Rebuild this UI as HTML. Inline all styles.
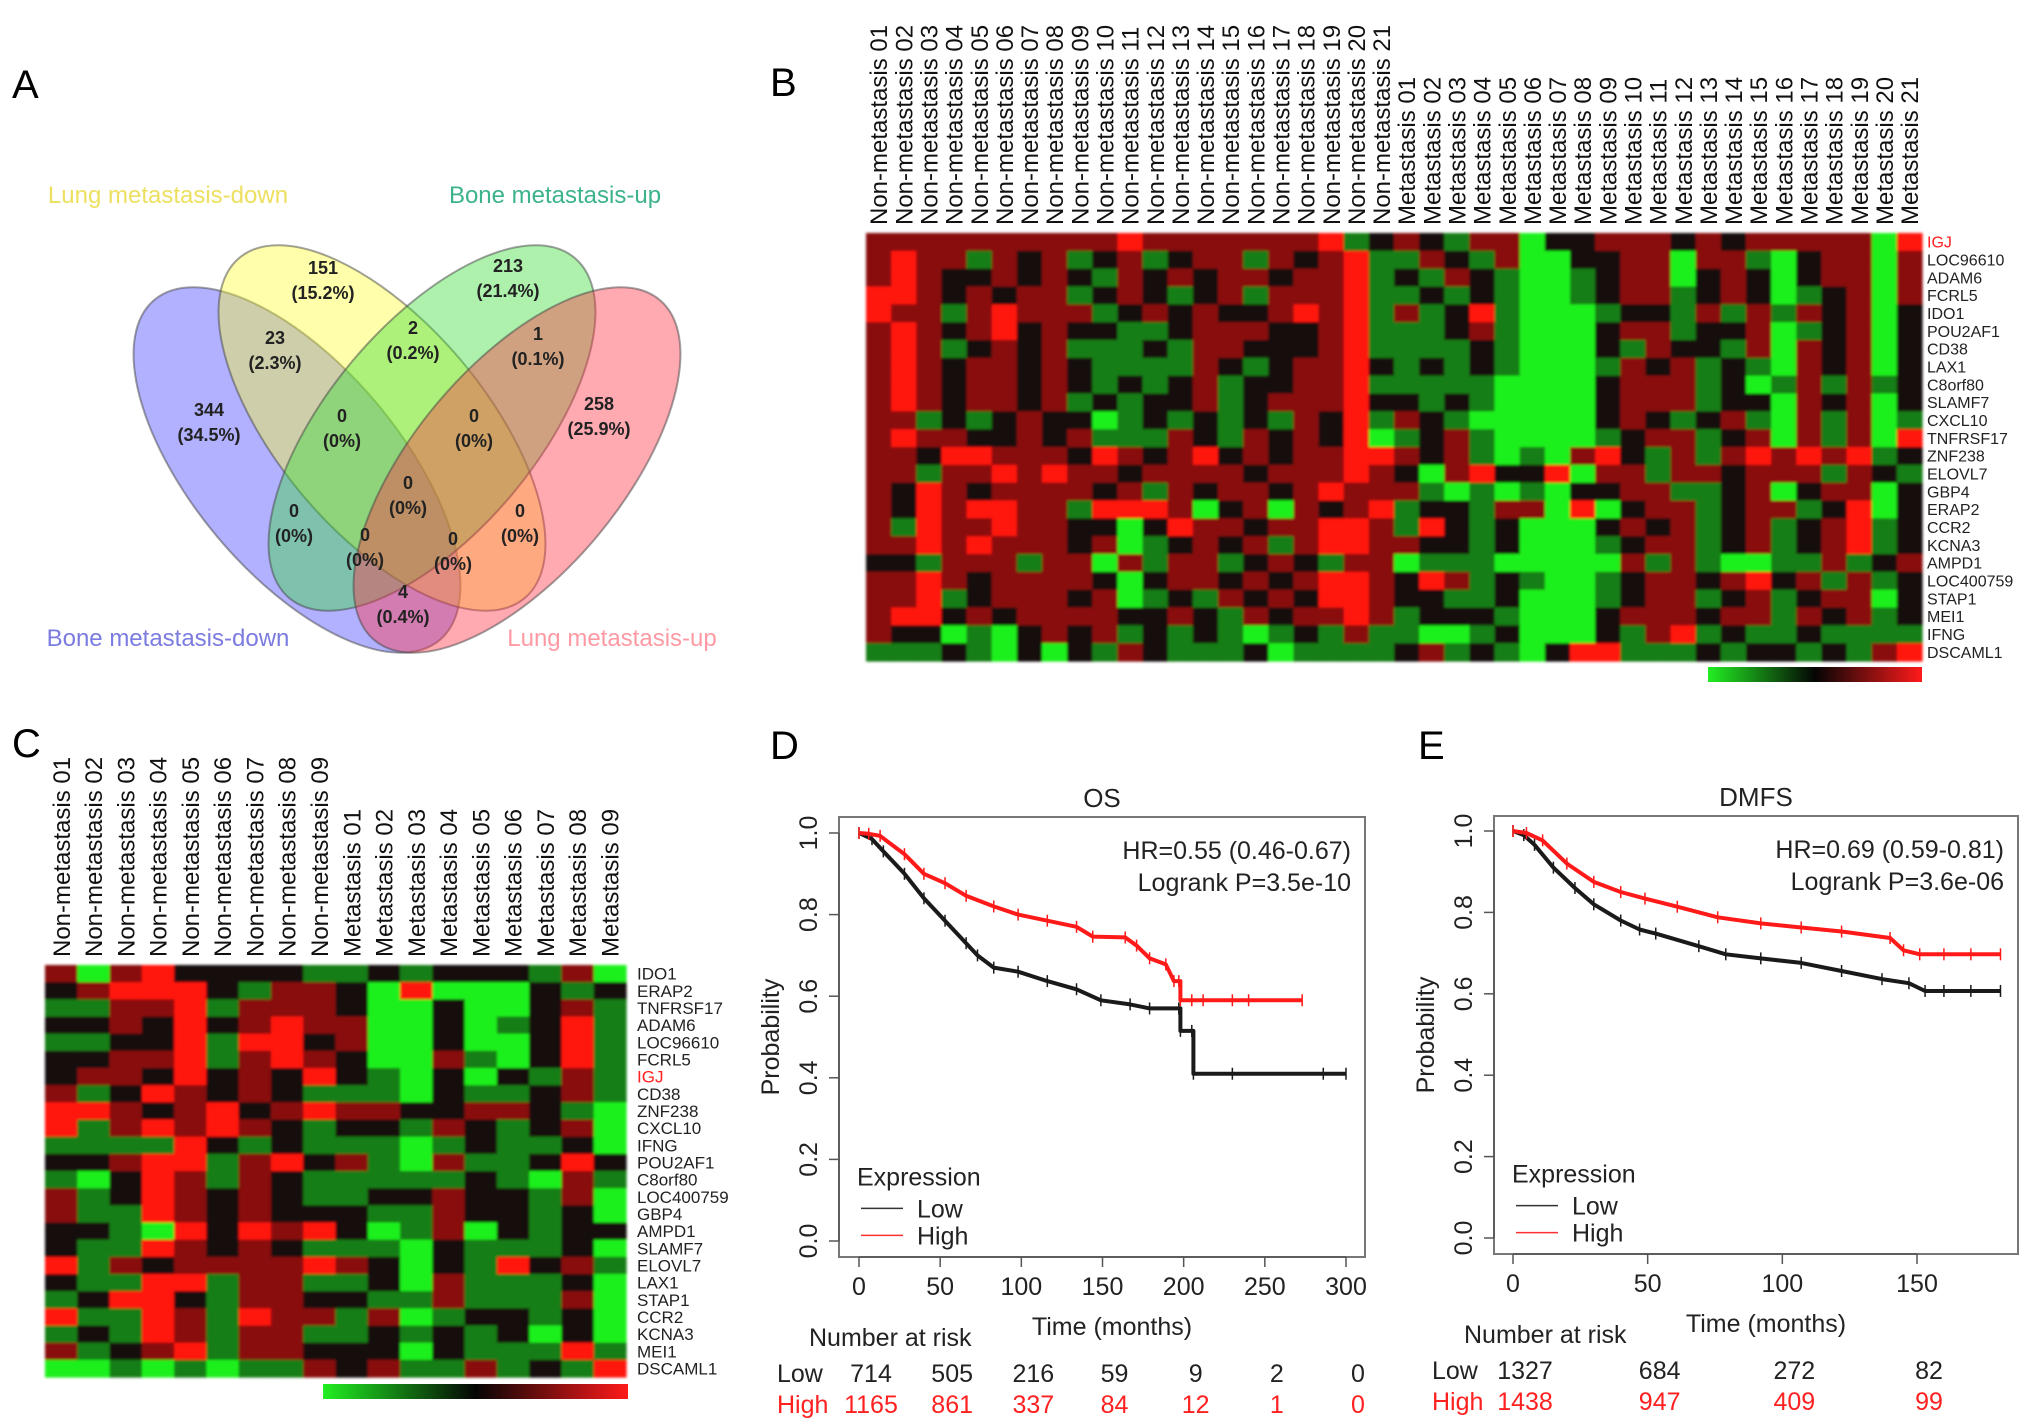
<!DOCTYPE html>
<html><head><meta charset="utf-8">
<style>
html,body{margin:0;padding:0;background:#fff;}
svg{display:block;font-family:"Liberation Sans",Arial,sans-serif;}
</style></head>
<body>
<svg id="fig" width="2032" height="1428" viewBox="0 0 2032 1428" xmlns="http://www.w3.org/2000/svg">
<defs>
<linearGradient id="cbar" x1="0" x2="1" y1="0" y2="0">
<stop offset="0" stop-color="#22ee22"/><stop offset="0.5" stop-color="#050505"/><stop offset="1" stop-color="#ff1a1a"/>
</linearGradient>
<filter id="soft"><feGaussianBlur stdDeviation="1.2"/></filter>
</defs>

<text x="12" y="98" font-size="40">A</text>
<text x="770" y="96" font-size="40">B</text>
<text x="12" y="757" font-size="40">C</text>
<text x="770" y="759" font-size="40">D</text>
<text x="1418" y="759" font-size="40">E</text>

<g id="venn">
<ellipse cx="297" cy="470" rx="104" ry="222" transform="rotate(-40 297 470)" fill="#4444ff" fill-opacity="0.42" stroke="#444" stroke-opacity="0.5" stroke-width="2"/>
<ellipse cx="382" cy="428" rx="104" ry="222" transform="rotate(-40 382 428)" fill="#ffff22" fill-opacity="0.38" stroke="#444" stroke-opacity="0.5" stroke-width="2"/>
<ellipse cx="432" cy="428" rx="104" ry="222" transform="rotate(40 432 428)" fill="#33dd33" fill-opacity="0.4" stroke="#444" stroke-opacity="0.5" stroke-width="2"/>
<ellipse cx="517" cy="470" rx="104" ry="222" transform="rotate(40 517 470)" fill="#ff3344" fill-opacity="0.42" stroke="#444" stroke-opacity="0.5" stroke-width="2"/>
<text x="168" y="203" font-size="24" fill="#ede060" text-anchor="middle">Lung metastasis-down</text>
<text x="555" y="203" font-size="24" fill="#3cb38a" text-anchor="middle">Bone metastasis-up</text>
<text x="168" y="646" font-size="24" fill="#7b7be0" text-anchor="middle">Bone metastasis-down</text>
<text x="612" y="646" font-size="24" fill="#ff9aa4" text-anchor="middle">Lung metastasis-up</text>
<g id="vennNums" font-size="18" font-weight="bold" fill="#222" text-anchor="middle"></g>
</g>

<g id="heatB"></g>
<g id="heatC"></g>
<g id="kmD"></g>
<g id="kmE"></g>
</svg>

<script>
const vennCounts = ["151","213","23","2","1","344","0","0","258","0","0","0","0","0","4"];
const vennPcts = ["(15.2%)","(21.4%)","(2.3%)","(0.2%)","(0.1%)","(34.5%)","(0%)","(0%)","(25.9%)","(0%)","(0%)","(0%)","(0%)","(0%)","(0.4%)"];
const vennRegionX = [323,508,275,413,538,209,342,474,599,408,294,520,365,453,403];
const vennRegionY = [268,266,338,328,334,410,416,416,404,483,511,511,535,539,592];

const genesB = ["IGJ","LOC96610","ADAM6","FCRL5","IDO1","POU2AF1","CD38","LAX1","C8orf80","SLAMF7","CXCL10","TNFRSF17","ZNF238","ELOVL7","GBP4","ERAP2","CCR2","KCNA3","AMPD1","LOC400759","STAP1","MEI1","IFNG","DSCAML1"];
const samplesB = [];
const rowsB = [
"rrrrrrr rrrRrrr rrrrRgk rkgrrGk krrrkrk rrrrrGR",
"rRrrgrk rgkrgkr rgrkrRg grkgrGG kkrrGrr gGkrrGr",
"rRrkkrk rkgrkrk rrkrrRg kgrkgGG gkrrGkr kGkrrGr",
"RRrkrkr rgkrkgk rgrrrRg gkgkgGG gkrrgkr kGgkrGr",
"RrrgrRr rrgkrkr kkrRrRg rgkRgGG Ggkkgrg rgrkrGk",
"rRrkrRk rkkggkr rrkkrRg ggkrgGG Gkrrgkk rGgkrGk",
"rRrgkrk rgggkgr rkkkrRg gggkgGG Gkgrkkg rGrkrGk",
"rRrkrrk rkggggr kgkrrRk gkgkgGG Ggrkrgk gGrkrGk",
"rRrkrrk rkgkgkr gkkrrRg ggggGGG Gkrrrgk Ggrgrgk",
"rRrkrrk rgkgkkr gkrrrRk kgkgGGG Gkrrrgk kGrkrGk",
"rrgkgkr kkGgkgk gkgrkRg rkgGGGG Gkrkgkr gGrgrGg",
"rRrrkkr krgggrk grkrkRG gkrgGGG Ggkrrgk rGrgrGR",
"rrkRRrr rkRrkrR krkrrRR rkrgGgG rRkgrgr RrRrRgk",
"rrgrrRr Rrrkrrr rkrrrRr kGrRkkR Grrgrrk rrrgrkg",
"rkRrkrr rrkrgrk rrkrRrr rgGgGgG kkrrggk rGkrrGk",
"rkRrRRr rgRRRrG krGrkrR gkkgrrG RGkrrgk rrgkRGk",
"rgRrrRr rkkGkRr rkrrRRr gRkgkGG Gkrkrgk rgkrRgk",
"rrRrRrr rkrGgkr krgrRRr rkkgkGG Ggkrrgk rgkrRgk",
"kkgrrrg rrGrgrr gkrkgrr GgggGGG GGrgrgG Gggrgkr",
"rrRrkrr rrkGkrr krkrRRr kRrgkgG Ggkrrkr Rkrgrgk",
"rrRgkrr rkrGgkg rkrkRRr kkggkGG Ggkrrgk rgkrrGk",
"rRRkrkr rrrkkrk grkrrRr gkkkgGG Gkrrrkr rgrkrgk",
"rkkGgGk rkrgkgk gGgkgrg gGGgkGG GkgrRgk ggkgggg",
"gggkgGk Gkgrkgg gkGgggg krgkgGk RRgggkg kkgkgrR"
];

const genesC = ["IDO1","ERAP2","TNFRSF17","ADAM6","LOC96610","FCRL5","IGJ","CD38","ZNF238","CXCL10","IFNG","POU2AF1","C8orf80","LOC400759","GBP4","AMPD1","SLAMF7","ELOVL7","LAX1","STAP1","CCR2","KCNA3","MEI1","DSCAML1"];
const samplesC = [];
const rowsC = [
"rGrRkkkkg gkgkkkgrG",
"krRRRkgrr kGRGGGkgk",
"ggrrRgrrr kGGkGGkrg",
"kkrkRkrRr rGGkGgkRg",
"ggkkRgRRk rGGkGGkRg",
"kkrrRgrRr kGGrgGkRg",
"krrkRkrkR kgGkGkgrg",
"rgkRrkrkg ggGkggkrg",
"RRrkrRkrR rrkkrrkgG",
"RgrRrRrkg kkgrkgkrG",
"ggggRkgkg ggGgkggkG",
"kkrRRgrRk rgGrggkRk",
"gGkRrgrkg ggggkgGrg",
"rgkRrkrkg gkkrkkgrG",
"rggRrkrkk kggrkkgkG",
"kkgGRkRrR kGgrGkgkk",
"kggRrkrkg ggGkgggkG",
"RgrkrrrrR rkGkgRkrg",
"kggRRgrrg gkGrgggkG",
"gkRRkgrrk kggrgggrG",
"RggRrgRrr grGgkkgkG",
"gkgRrgrrg gkgkgkGkG",
"rgkrRgrrk kkGkgggRg",
"GGgGgGggr krggrgkgR"
];

const osTicksX = [0,50,100,150,200,250,300];
const osLowT = [0,8,15,28,40,53,66,73,83,98,116,134,149,167,179,197,198,205,206,230,286,300];
const osLowS = [1,0.985,0.955,0.90,0.84,0.785,0.73,0.70,0.67,0.66,0.637,0.617,0.59,0.58,0.57,0.57,0.515,0.515,0.41,0.41,0.41,0.41];
const osHighT = [0,6,13,28,40,53,66,83,98,116,134,144,164,171,179,189,194,197,198,205,212,230,240,273];
const osHighS = [1,0.998,0.993,0.948,0.90,0.877,0.846,0.82,0.80,0.785,0.77,0.746,0.744,0.724,0.693,0.678,0.637,0.637,0.59,0.59,0.59,0.59,0.59,0.59];
const osRiskLow = ["714","505","216","59","9","2","0"];
const osRiskHigh = ["1165","861","337","84","12","1","0"];

const dmTicksX = [0,50,100,150];
const dmLowT = [0,4,8,15,23,30,40,47,53,69,79,92,107,122,137,147,153,160,170,181];
const dmLowS = [1,0.99,0.966,0.91,0.86,0.82,0.78,0.758,0.748,0.717,0.697,0.687,0.676,0.656,0.636,0.626,0.607,0.607,0.607,0.607];
const dmHighT = [0,5,11,20,30,40,49,61,76,92,107,122,140,145,151,160,170,181];
const dmHighS = [1,0.995,0.977,0.92,0.875,0.85,0.834,0.814,0.788,0.773,0.763,0.753,0.737,0.707,0.697,0.697,0.697,0.697];
const dmRiskLow = ["1327","684","272","82"];
const dmRiskHigh = ["1438","947","409","99"];
const yTicks = [0,0.2,0.4,0.6,0.8,1.0];
const yTickLabels = ["0.0","0.2","0.4","0.6","0.8","1.0"];

for (let i=1;i<=21;i++){ samplesB.push("Non-metastasis "+String(i).padStart(2,"0")); }
for (let i=1;i<=21;i++){ samplesB.push("Metastasis "+String(i).padStart(2,"0")); }
for (let i=1;i<=9;i++){ samplesC.push("Non-metastasis "+String(i).padStart(2,"0")); }
for (let i=1;i<=9;i++){ samplesC.push("Metastasis "+String(i).padStart(2,"0")); }

const NS = "http://www.w3.org/2000/svg";
function mk(tag, attrs, parent){
  const e = document.createElementNS(NS, tag);
  for (const k in attrs) e.setAttribute(k, attrs[k]);
  parent.appendChild(e);
  return e;
}
const levelVal = {G:-2,g:-1,k:0,r:1,R:2};
function heatColor(v){
  if (v>=0){ const t=v/2; return `rgb(${Math.round(18+237*t)},${Math.round(12+6*t)},${Math.round(10+6*t)})`; }
  const t=-v/2; return `rgb(${Math.round(18+12*t)},${Math.round(12+228*t)},${Math.round(10+20*t)})`;
}

const vn = document.getElementById("vennNums");
vennCounts.forEach((c,i)=>{
  const t1 = mk("text",{x:vennRegionX[i], y:vennRegionY[i]+6}, vn);
  
  
  t1.textContent = c;
  const t2 = mk("text",{x:vennRegionX[i], y:vennRegionY[i]+31}, vn);
  
  
  t2.textContent = vennPcts[i];
});

function drawHeat(gid, rows, genes, samples, x0, y0, x1, y1, labelX, colFont, rowFont, bar){
  const g = document.getElementById(gid);
  const cells = rows.map(r=>r.replace(/\s+/g,""));
  const nc = samples.length, nr = genes.length;
  const cw = (x1-x0)/nc, ch = (y1-y0)/nr;
  const cg = mk("g",{filter:"url(#soft)"}, g);
  
  
  cells.forEach((row,ri)=>{
    for (let ci=0; ci<nc; ci++){
      const ch_ = row[ci] || "k";
      const r = mk("rect",{x:(x0+ci*cw).toFixed(2), y:(y0+ri*ch).toFixed(2), width:(cw+0.6).toFixed(2), height:(ch+0.6).toFixed(2), fill:heatColor(levelVal[ch_])}, cg);
      
      
    }
  });
  samples.forEach((s,ci)=>{
    const cx = x0+(ci+0.5)*cw + colFont*0.36;
    const by = y0-8;
    const t = mk("text",{x:cx, y:by, "font-size":colFont, transform:`rotate(-90 ${cx} ${by})`, fill:"#111"}, g);
    
    
    t.textContent = s;
  });
  genes.forEach((gn,ri)=>{
    const t = mk("text",{x:labelX, y:y0+(ri+0.5)*ch+rowFont*0.36, "font-size":rowFont, fill: gn==="IGJ"?"#ff2020":"#222"}, g);
    
    
    t.textContent = gn;
  });
  const b = mk("rect",{x:bar[0], y:bar[1], width:bar[2], height:bar[3], fill:"url(#cbar)"}, g);
  
  
}
drawHeat("heatB", rowsB, genesB, samplesB, 866, 233, 1922, 661, 1927, 24, 16, [1708,667,214,15]);
drawHeat("heatC", rowsC, genesC, samplesC, 45, 965, 626, 1377, 637, 24, 17, [323,1384,305,15]);

function drawKM(gid, cfg, ticksX, lowT, lowS, highT, highS, riskLow, riskHigh, title, hr, lr){
  const g = document.getElementById(gid);
  const xs = t => cfg.x0 + (cfg.x1-cfg.x0)*t/cfg.tmax;
  const ys = p => cfg.y0 - (cfg.y0-cfg.y1)*p;
  const box = mk("rect",{x:cfg.bl, y:cfg.bt, width:cfg.br-cfg.bl, height:cfg.bb-cfg.bt, fill:"none", stroke:"#777", "stroke-width":2}, g);
  
  
  const tt = mk("text",{x:(cfg.bl+cfg.br)/2, y:cfg.bt-10, "font-size":26, "text-anchor":"middle", fill:"#222"}, g);
  
  
  tt.textContent = title;
  const ya = mk("line",{x1:cfg.bl, x2:cfg.bl, y1:ys(0), y2:ys(1), stroke:"#555","stroke-width":1.5}, g);
  
  
  yTicks.forEach((v,i)=>{
    const l = mk("line",{x1:cfg.bl-10, x2:cfg.bl, y1:ys(v), y2:ys(v), stroke:"#555","stroke-width":1.5}, g);
    
    
    const lx = cfg.bl-22, ly = ys(v);
    const t = mk("text",{x:lx, y:ly, "font-size":25, "text-anchor":"middle", transform:`rotate(-90 ${lx} ${ly})`, fill:"#222"}, g);
    
    
    t.textContent = yTickLabels[i];
  });
  const yl = mk("text",{x:cfg.bl-60, y:(cfg.bt+cfg.bb)/2, "font-size":25, "text-anchor":"middle", transform:`rotate(-90 ${cfg.bl-60} ${(cfg.bt+cfg.bb)/2})`, fill:"#222"}, g);
  
  
  yl.textContent = "Probability";
  const xa = mk("line",{x1:xs(ticksX[0]), x2:xs(ticksX[ticksX.length-1]), y1:cfg.bb, y2:cfg.bb, stroke:"#555","stroke-width":1.5}, g);
  
  
  ticksX.forEach(v=>{
    const l = mk("line",{x1:xs(v), x2:xs(v), y1:cfg.bb, y2:cfg.bb+10, stroke:"#555","stroke-width":1.5}, g);
    
    
    const t = mk("text",{x:xs(v), y:cfg.bb+38, "font-size":25, "text-anchor":"middle", fill:"#222"}, g);
    
    
    t.textContent = v;
  });
  const xl = mk("text",{x:(cfg.bl+cfg.br)/2+10, y:cfg.bb+78, "font-size":25, "text-anchor":"middle", fill:"#222"}, g);
  
  
  xl.textContent = "Time (months)";
  function curve(T,S,color,name){
    let d = `M${xs(T[0]).toFixed(1)},${ys(S[0]).toFixed(1)}`;
    for (let i=1;i<T.length;i++){
      if (T[i]-T[i-1] <= 1.01 && S[i] < S[i-1]) d += ` H${xs(T[i]).toFixed(1)} V${ys(S[i]).toFixed(1)}`;
      else d += ` L${xs(T[i]).toFixed(1)},${ys(S[i]).toFixed(1)}`;
    }
    const p = mk("path",{d:d, fill:"none", stroke:color, "stroke-width":4, "stroke-linejoin":"round"}, g);
    
    
    T.forEach((t,i)=>{
      const c = mk("line",{x1:xs(t), x2:xs(t), y1:ys(S[i])-6, y2:ys(S[i])+6, stroke:color, "stroke-width":1.5}, g);
      
      
    });
  }
  curve(lowT, lowS, "#1a1a1a", "low");
  curve(highT, highS, "#ff1a1a", "high");
  const h = mk("text",{x:cfg.br-14, y:cfg.bt+42, "font-size":25, "text-anchor":"end", fill:"#222"}, g);
  
  
  h.textContent = hr;
  const lg = mk("text",{x:cfg.br-14, y:cfg.bt+74, "font-size":25, "text-anchor":"end", fill:"#222"}, g);
  
  
  lg.textContent = lr;
  const lt = mk("text",{x:cfg.bl+18, y:ys(0.2)+26, "font-size":25, fill:"#222"}, g);
  
  
  lt.textContent = "Expression";
  [["Low","#333",0],["High","#ff3030",1]].forEach(([lab,col,k])=>{
    const yy = ys(0.2)+49+k*27;
    const ln = mk("line",{x1:cfg.bl+22, x2:cfg.bl+64, y1:yy, y2:yy, stroke:col, "stroke-width":1.5}, g);
    
    
    const t = mk("text",{x:cfg.bl+78, y:yy+9, "font-size":25, fill:"#222"}, g);
    
    
    t.textContent = lab;
  });
  const nr = mk("text",{x:cfg.bl-30, y:cfg.bb+89, "font-size":25, fill:"#222"}, g);
  
  
  nr.textContent = "Number at risk";
  [["Low","#222",riskLow,cfg.bb+125],["High","#ff2020",riskHigh,cfg.bb+156]].forEach(([lab,col,arr,yy])=>{
    const t = mk("text",{x:cfg.bl-62, y:yy, "font-size":25, fill:col}, g);
    
    
    t.textContent = lab;
    arr.forEach((v,i)=>{
      const n = mk("text",{x:xs(ticksX[i])+cfg.riskOff, y:yy, "font-size":25, "text-anchor":"middle", fill:col}, g);
      
      
      n.textContent = v;
    });
  });
}
drawKM("kmD", {x0:859,x1:1346,tmax:300,y0:1241,y1:833,bl:839,br:1365,bt:817,bb:1257,riskOff:12},
  osTicksX, osLowT, osLowS, osHighT, osHighS, osRiskLow, osRiskHigh, "OS", "HR=0.55 (0.46-0.67)", "Logrank P=3.5e-10");
drawKM("kmE", {x0:1513,x1:1917,tmax:150,y0:1238,y1:831,bl:1494,br:2018,bt:816,bb:1254,riskOff:12},
  dmTicksX, dmLowT, dmLowS, dmHighT, dmHighS, dmRiskLow, dmRiskHigh, "DMFS", "HR=0.69 (0.59-0.81)", "Logrank P=3.6e-06");
</script>
</body></html>
